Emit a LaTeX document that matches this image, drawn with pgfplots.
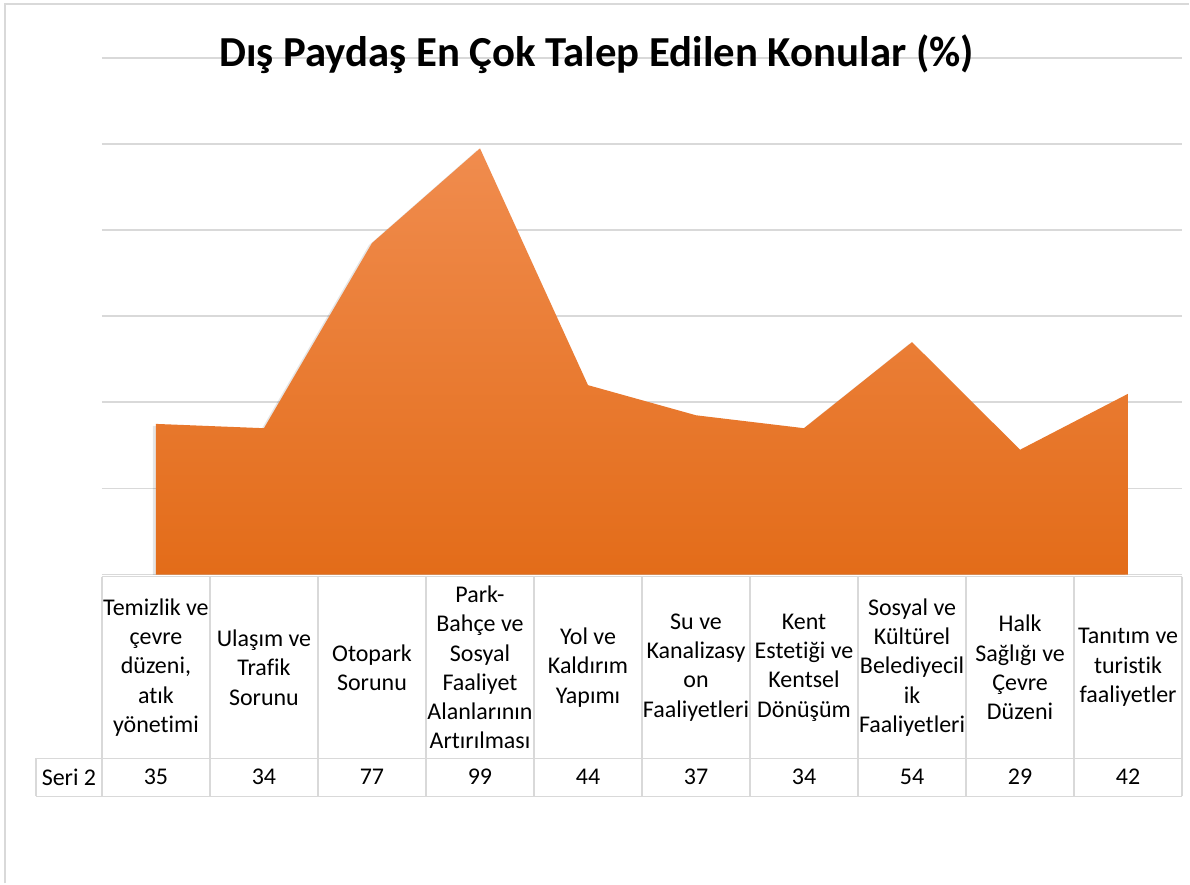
\documentclass[border=0pt]{standalone}
\usepackage{fontspec}
\setmainfont{Carlito}[Ligatures=CommonOff]
\usepackage{pgfplots}
\pgfplotsset{compat=1.18}
\usepackage{pgfplotstable}
\definecolor{gridc}{HTML}{D9D9D9}
\definecolor{areatop}{HTML}{F08C4E}
\definecolor{areabot}{HTML}{E36C19}
\pgfplotstableread{
x y
0 35
1 34
2 77
3 99
4 44
5 37
6 34
7 54
8 29
9 42
}\datatable
\begin{document}
\begin{tikzpicture}
% page frame (1px = 0.5pt), origin at top-left
\begin{scope}[x=0.5pt,y=-0.5pt]
\fill[white] (0,0) rectangle (1190,884);
\draw[gridc, line width=0.9pt] (5,884) -- (5,4) -- (1190,4);
\end{scope}
\begin{axis}[
  at={(51pt,-287.5pt)}, anchor=south west,
  scale only axis, width=540.5pt, height=258.5pt,
  xmin=-0.5, xmax=9.5, ymin=0, ymax=120,
  axis line style={draw=none},
  major tick length=0pt,
  ytick={0,20,...,120}, yticklabels={},
  ymajorgrids, grid style={gridc, line width=0.9pt},
  xtick={0,...,9},
  xticklabels={{Temizlik ve\\çevre\\düzeni,\\atık\\yönetimi},
    {Ulaşım ve\\Trafik\\Sorunu},
    {Otopark\\Sorunu},
    {Park-\\Bahçe ve\\Sosyal\\Faaliyet\\Alanlarının\\Artırılması},
    {Yol ve\\Kaldırım\\Yapımı},
    {Su ve\\Kanalizasy\\on\\Faaliyetleri},
    {Kent\\Estetiği ve\\Kentsel\\Dönüşüm},
    {Sosyal ve\\Kültürel\\Belediyecil\\ik\\Faaliyetleri},
    {Halk\\Sağlığı ve\\Çevre\\Düzeni},
    {Tanıtım ve\\turistik\\faaliyetler}},
  xticklabel style={align=center, anchor=center, yshift=-46.5pt,
    font=\fontsize{12}{14.65}\selectfont, text=black},
  extra x ticks={0,...,9},
  extra x tick labels={35,34,77,99,44,37,34,54,29,42},
  extra x tick style={grid=none, xticklabel style={yshift=-54.5pt}},
  clip=true,
]
\addplot[draw=none, fill=black, opacity=0.10, xshift=-1.5pt, yshift=-1pt] table[x=x,y=y]{\datatable} \closedcycle;
\addplot[draw=none, top color=areatop, bottom color=areabot] table[x=x,y=y]{\datatable} \closedcycle;
\end{axis}
\begin{scope}[x=0.5pt,y=-0.5pt]
\draw[gridc, line width=0.9pt] (102,577) -- (1183,577);
\draw[gridc, line width=0.9pt] (36,759) -- (1183,759);
\draw[gridc, line width=0.9pt] (36,797) -- (1183,797);
\draw[gridc, line width=0.9pt] (36,759) -- (36,797);
\foreach \k in {0,...,10} {
  \draw[gridc, line width=0.9pt] ({102+\k*108.1},577) -- ({102+\k*108.1},797);
}
\node[font=\fontsize{12}{14.65}\selectfont, anchor=center] at (69,778) {Seri 2};
\node[font=\bfseries\fontsize{21.4}{25}\selectfont, anchor=base] at (597,67) {Dış Paydaş En Çok Talep Edilen Konular (\%)};
\end{scope}
\end{tikzpicture}
\end{document}
